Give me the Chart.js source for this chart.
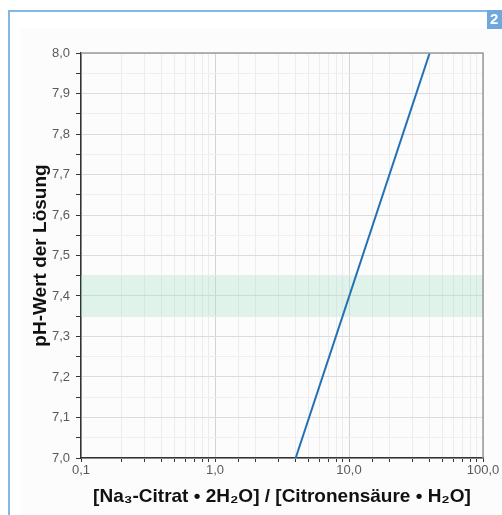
<!DOCTYPE html>
<html>
<head>
<meta charset="utf-8">
<script src="https://cdn.jsdelivr.net/npm/chart.js@4"></script>
<style>
  body { margin: 0; background: #fff; }
  canvas { display: block; }
</style>
</head>
<body>
<canvas id="chart" width="502" height="515"></canvas>
<script>
// Verhältnis Na3-Citrat / Citronensäure gegen pH
const ratios = [4.0, 40.0];
const phValues = [7.0, 8.0];
const xDecades = [0.1, 1, 10, 100];
const bandRange = [7.35, 7.45];   // physiologischer Bereich
const badgeText = '2';

const lineColor = '#2270b5';
const tickColor = '#5a5a5a';
const fontFamily = '"Liberation Sans", Arial, sans-serif';

function fmtComma(v, digits) {
    return v.toFixed(digits).replace('.', ',');
}

// Rahmen, Hintergrund und Nummer
const framePlugin = {
    id: 'frame',
    beforeDraw(chart) {
        const ctx = chart.ctx;
        ctx.save();
        ctx.fillStyle = '#fcfcfc';
        ctx.fillRect(20, 28, 482, 487);
        ctx.strokeStyle = '#84b6e6';
        ctx.lineWidth = 2;
        ctx.beginPath();
        ctx.moveTo(9, 515);
        ctx.lineTo(9, 11);
        ctx.lineTo(487, 11);
        ctx.stroke();
        ctx.fillStyle = '#6fa8dc';
        ctx.fillRect(487, 10, 15, 19);
        ctx.fillStyle = '#ffffff';
        ctx.font = 'bold 15px ' + fontFamily;
        ctx.textBaseline = 'middle';
        ctx.fillText(badgeText, 490, 20);
        ctx.restore();
    }
};

// grüner Bereich 7,35 - 7,45 und Rahmen oben/rechts
const bandPlugin = {
    id: 'band',
    beforeDatasetsDraw(chart) {
        const { ctx, chartArea, scales } = chart;
        const yTop = scales.y.getPixelForValue(bandRange[1]);
        const yBot = scales.y.getPixelForValue(bandRange[0]);
        ctx.save();
        ctx.fillStyle = 'rgba(170, 225, 200, 0.35)';
        ctx.fillRect(chartArea.left, yTop, chartArea.right - chartArea.left, yBot - yTop);
        ctx.restore();
    },
    afterDatasetsDraw(chart) {
        const { ctx, chartArea } = chart;
        ctx.save();
        ctx.strokeStyle = '#9a9a9a';
        ctx.lineWidth = 1.5;
        ctx.beginPath();
        ctx.moveTo(chartArea.left, chartArea.top);
        ctx.lineTo(chartArea.right, chartArea.top);
        ctx.lineTo(chartArea.right, chartArea.bottom);
        ctx.stroke();
        ctx.restore();
    }
};

new Chart(document.getElementById('chart'), {
    type: 'line',
    data: {
        datasets: [{
            data: ratios.map((r, i) => ({ x: r, y: phValues[i] })),
            borderColor: lineColor,
            borderWidth: 2,
            pointRadius: 0,
            fill: false,
            tension: 0
        }]
    },
    options: {
        responsive: false,
        animation: false,
        layout: { padding: { left: 0, top: 53, right: 19, bottom: 0 } },
        plugins: {
            legend: { display: false },
            tooltip: { enabled: false }
        },
        scales: {
            x: {
                type: 'logarithmic',
                min: xDecades[0],
                max: xDecades[xDecades.length - 1],
                afterFit: (scale) => { scale.height = 57; },
                grid: {
                    color: (ctx) => xDecades.some(d => Math.abs(ctx.tick.value - d) < 1e-9) ? '#d4d4d4' : '#ececec',
                    tickColor: '#333333',
                    tickLength: 4
                },
                border: { color: '#333333', width: 1.5 },
                ticks: {
                    autoSkip: false,
                    maxRotation: 0,
                    padding: 1,
                    color: tickColor,
                    font: { family: fontFamily, size: 13 },
                    callback: (v) => {
                        const d = xDecades.find(d => Math.abs(v - d) < 1e-9);
                        return d === undefined ? '' : fmtComma(d, 1);
                    }
                },
                title: {
                    display: true,
                    text: '[Na₃-Citrat • 2H₂O] / [Citronensäure • H₂O]',
                    color: '#111111',
                    font: { family: fontFamily, size: 19, weight: 'bold' },
                    padding: { top: 0, bottom: 7 }
                }
            },
            y: {
                min: phValues[0],
                max: phValues[phValues.length - 1],
                afterFit: (scale) => { scale.width = 81; },
                afterBuildTicks: (scale) => {
                    const ticks = [];
                    for (let i = 0; i <= 20; i++) ticks.push({ value: 7 + i * 0.05 });
                    scale.ticks = ticks;
                },
                grid: {
                    color: (ctx) => Math.round(ctx.tick.value * 100) % 10 === 0 ? '#dcdcdc' : '#efefef',
                    tickColor: '#333333',
                    tickLength: 5
                },
                border: { color: '#333333', width: 1.5 },
                ticks: {
                    padding: 6,
                    color: tickColor,
                    font: { family: fontFamily, size: 13 },
                    callback: (v) => Math.round(v * 100) % 10 === 0 ? fmtComma(v, 1) : ''
                },
                title: {
                    display: true,
                    text: 'pH-Wert der Lösung',
                    color: '#111111',
                    font: { family: fontFamily, size: 19, weight: 'bold' },
                    padding: { top: 29, bottom: 0 }
                }
            }
        }
    },
    plugins: [framePlugin, bandPlugin]
});
</script>
</body>
</html>
